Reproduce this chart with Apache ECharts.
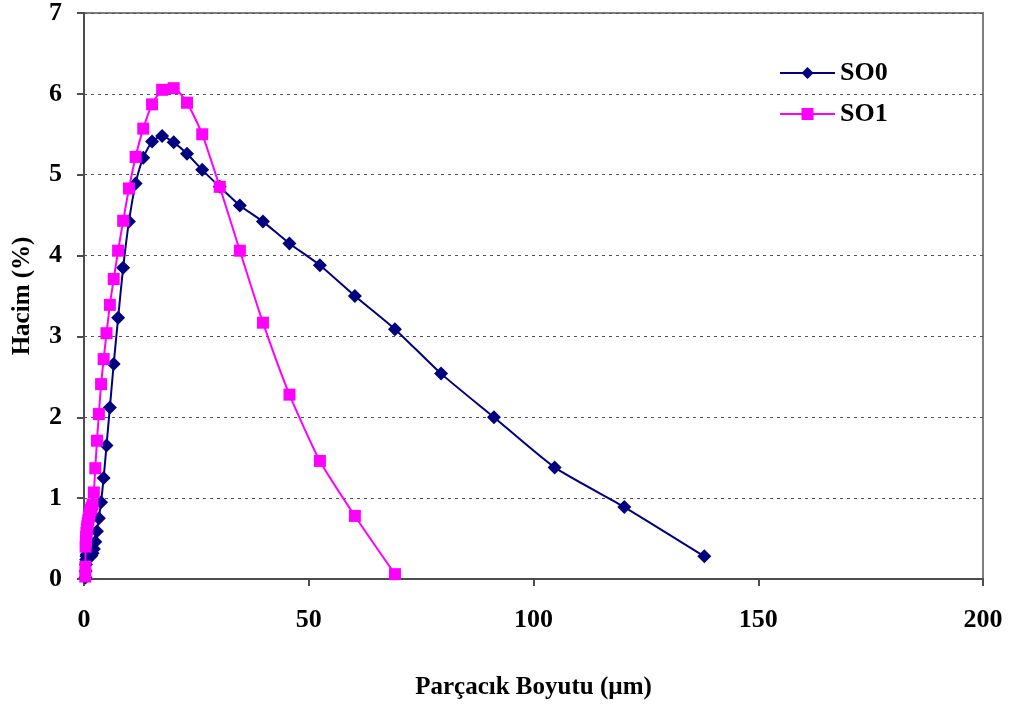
<!DOCTYPE html>
<html>
<head>
<meta charset="utf-8">
<script src="https://cdn.jsdelivr.net/npm/echarts@6/dist/echarts.min.js"></script>
<style>
  html, body { margin: 0; padding: 0; background: #fff; }
  #chart { width: 1015px; height: 706px; }
</style>
</head>
<body>
<div id="chart"></div>
<script>
// particle size bins (µm) and volume (%)
var so0Size = [0.32, 0.36, 0.42, 0.48, 0.55, 0.63, 0.72, 0.83, 0.96, 1.10, 1.26, 1.45, 1.66, 1.91, 2.19, 2.51, 2.88, 3.31, 3.80, 4.37, 5.01, 5.75, 6.61, 7.59, 8.71, 10.0, 11.48, 13.18, 15.14, 17.38, 19.95, 22.91, 26.30, 30.20, 34.67, 39.81, 45.71, 52.48, 60.26, 69.18, 79.43, 91.20, 104.7, 120.2, 138.0];
var so0Vol = [0.02, 0.10, 0.18, 0.24, 0.28, 0.30, 0.31, 0.31, 0.30, 0.29, 0.28, 0.28, 0.29, 0.32, 0.37, 0.46, 0.59, 0.75, 0.95, 1.25, 1.65, 2.12, 2.66, 3.23, 3.85, 4.42, 4.89, 5.21, 5.41, 5.48, 5.40, 5.26, 5.06, 4.85, 4.62, 4.42, 4.15, 3.88, 3.50, 3.09, 2.54, 2.00, 1.38, 0.89, 0.28];

var so1Size = [0.28, 0.32, 0.36, 0.42, 0.48, 0.55, 0.63, 0.72, 0.83, 0.96, 1.10, 1.26, 1.45, 1.66, 1.91, 2.19, 2.51, 2.88, 3.31, 3.80, 4.37, 5.01, 5.75, 6.61, 7.59, 8.71, 10.0, 11.48, 13.18, 15.14, 17.38, 19.95, 22.91, 26.30, 30.20, 34.67, 39.81, 45.71, 52.48, 60.26, 69.18];
var so1Vol = [0.03, 0.15, 0.40, 0.46, 0.52, 0.57, 0.61, 0.65, 0.69, 0.73, 0.77, 0.81, 0.85, 0.88, 0.92, 1.07, 1.37, 1.71, 2.04, 2.41, 2.72, 3.04, 3.39, 3.71, 4.06, 4.43, 4.83, 5.22, 5.57, 5.87, 6.05, 6.07, 5.89, 5.50, 4.85, 4.06, 3.17, 2.28, 1.46, 0.78, 0.06];

var seriesNames = ['SO0', 'SO1'];
var xTitle = 'Parçacık Boyutu (µm)';
var yTitle = 'Hacim (%)';

function pairs(xs, ys) {
  var out = [];
  for (var i = 0; i < xs.length; i++) {
    out.push([xs[i], ys[i]]);
  }
  return out;
}

var font = '"Liberation Serif", "Times New Roman", serif';
var chart = echarts.init(document.getElementById('chart'));

var option = {
  backgroundColor: '#ffffff',
  animation: false,
  grid: {
    left: 84, right: 32, top: 12, bottom: 127,
    show: true,
    borderColor: '#808080',
    borderWidth: 2
  },
  legend: {
    orient: 'vertical',
    left: 779,
    top: 60,
    padding: 0,
    itemWidth: 55,
    itemHeight: 15,
    itemGap: 15,
    textStyle: { fontFamily: font, fontWeight: 'bold', fontSize: 26, color: '#000' },
    data: seriesNames
  },
  xAxis: {
    type: 'value',
    min: 0, max: 200, interval: 50,
    name: xTitle,
    nameLocation: 'middle',
    nameGap: 96,
    nameTextStyle: { fontFamily: font, fontWeight: 'bold', fontSize: 25, color: '#000' },
    axisLine: { lineStyle: { color: '#4d4d4d', width: 2 } },
    axisTick: { show: true, length: 7, lineStyle: { color: '#4d4d4d', width: 2 } },
    axisLabel: { fontFamily: font, fontWeight: 'bold', fontSize: 26, color: '#000', margin: 28 },
    splitLine: { show: false }
  },
  yAxis: {
    type: 'value',
    min: 0, max: 7, interval: 1,
    name: yTitle,
    nameLocation: 'middle',
    nameGap: 49,
    nameRotate: 90,
    nameTextStyle: { fontFamily: font, fontWeight: 'bold', fontSize: 25, color: '#000' },
    axisLine: { show: true, lineStyle: { color: '#4d4d4d', width: 2 } },
    axisTick: { show: true, length: 7, lineStyle: { color: '#4d4d4d', width: 2 } },
    axisLabel: { fontFamily: font, fontWeight: 'bold', fontSize: 26, color: '#000', margin: 22 },
    splitLine: { show: true, lineStyle: { color: '#555', type: [3, 4], width: 1 } }
  },
  series: [
    {
      name: seriesNames[0],
      type: 'line',
      data: pairs(so0Size, so0Vol),
      smooth: 0.2,
      symbol: 'diamond',
      symbolSize: 14,
      color: '#000080',
      lineStyle: { color: '#000080', width: 2 },
      itemStyle: { color: '#000080' },
      z: 2
    },
    {
      name: seriesNames[1],
      type: 'line',
      data: pairs(so1Size, so1Vol),
      smooth: 0.2,
      symbol: 'rect',
      symbolSize: 12,
      color: '#ff00ff',
      lineStyle: { color: '#ff00ff', width: 2 },
      itemStyle: { color: '#ff00ff' },
      z: 3
    }
  ]
};

chart.setOption(option);
</script>
</body>
</html>
